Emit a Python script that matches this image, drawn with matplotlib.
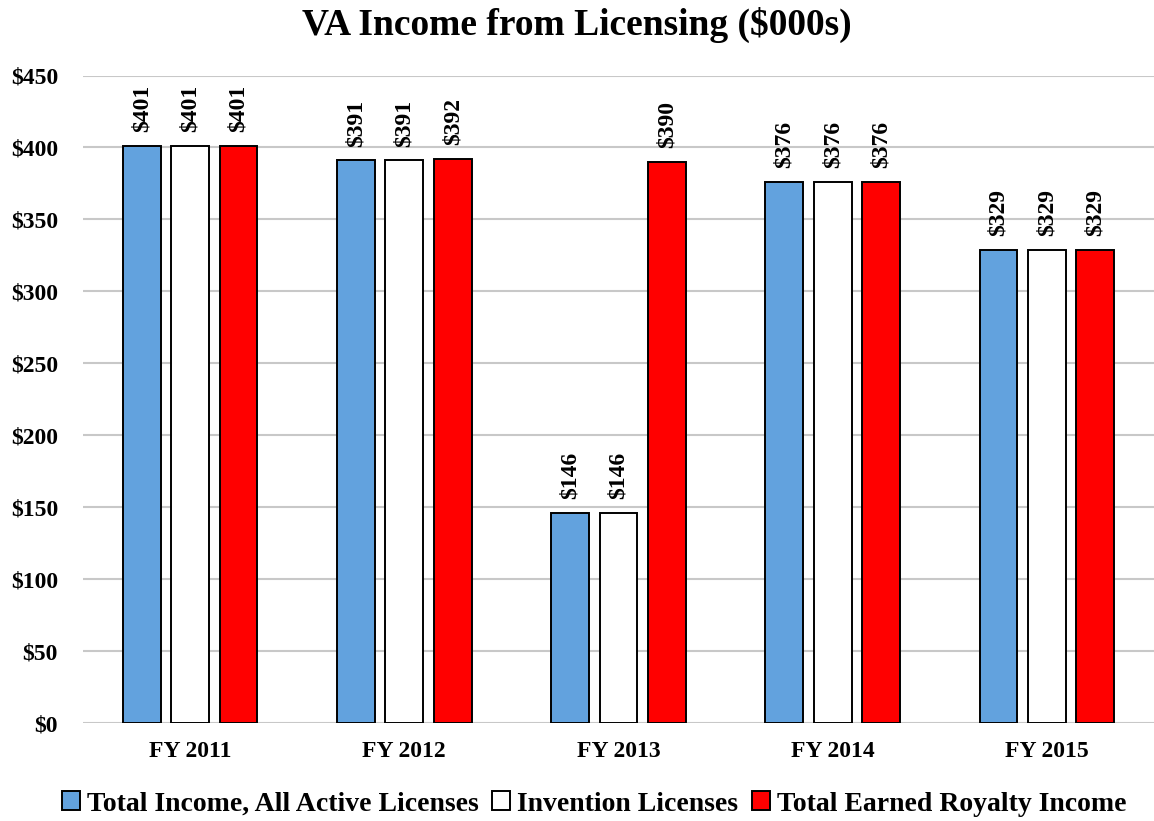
import numpy as np
import matplotlib.pyplot as plt

# data ($000s)
years = ["FY 2011", "FY 2012", "FY 2013", "FY 2014", "FY 2015"]
total_income = [401, 391, 146, 376, 329]
invention = [401, 391, 146, 376, 329]
royalty = [401, 392, 390, 376, 329]
series_names = ["Total Income, All Active Licenses", "Invention Licenses",
                "Total Earned Royalty Income"]
colors = ["#62A2DE", "#FFFFFF", "#FF0000"]

plt.rcParams['font.family'] = ['Liberation Serif', 'DejaVu Serif']
plt.rcParams['font.weight'] = 'bold'

fig = plt.figure(figsize=(11.54, 8.21), dpi=100)
ax = fig.add_axes([83 / 1154, 98 / 821, 1 - 83 / 1154, (723 - 75.5) / 821])

x = np.arange(len(years))
width = 0.177
step = 0.226

for i, (vals, name, col) in enumerate(zip([total_income, invention, royalty],
                                          series_names, colors)):
    pos = x + (i - 1) * step
    bars = ax.bar(pos, vals, width, color=col, edgecolor="black",
                  linewidth=1.4, label=name, zorder=3)
    for b, v in zip(bars, vals):
        ax.annotate(f"${v}", (b.get_x() + b.get_width() / 2, b.get_height()),
                    xytext=(0, 10), textcoords="offset points",
                    rotation=90, ha="center", va="bottom",
                    fontsize=17, fontweight="bold")

ax.set_ylim(0, 450)
ax.set_xlim(-0.5, len(years) - 0.5)
ax.set_yticks(np.arange(0, 451, 50))
ax.set_yticklabels([f"${t}" for t in range(0, 451, 50)])
ax.set_xticks(x)
ax.set_xticklabels(years)
ax.tick_params(axis="y", length=0, pad=18, labelsize=17)
ax.tick_params(axis="x", length=0, pad=13, labelsize=17)
for lab in ax.get_xticklabels() + ax.get_yticklabels():
    lab.set_fontweight("bold")

ax.grid(axis="y", color="#C8C8C8", linewidth=1.5, zorder=0)
for s in ax.spines.values():
    s.set_visible(False)

fig.text(0.5, 1 - 25 / 821, "VA Income from Licensing ($000s)",
         ha="center", va="center", fontsize=27, fontweight="bold")

fig.legend(loc="center", bbox_to_anchor=(0.515, 17 / 821), ncol=3,
           frameon=False, handlelength=0.65, handleheight=0.65,
           handletextpad=0.25, columnspacing=0.5,
           prop={"size": 20, "weight": "bold"})

fig.savefig("out.png", dpi=100)
